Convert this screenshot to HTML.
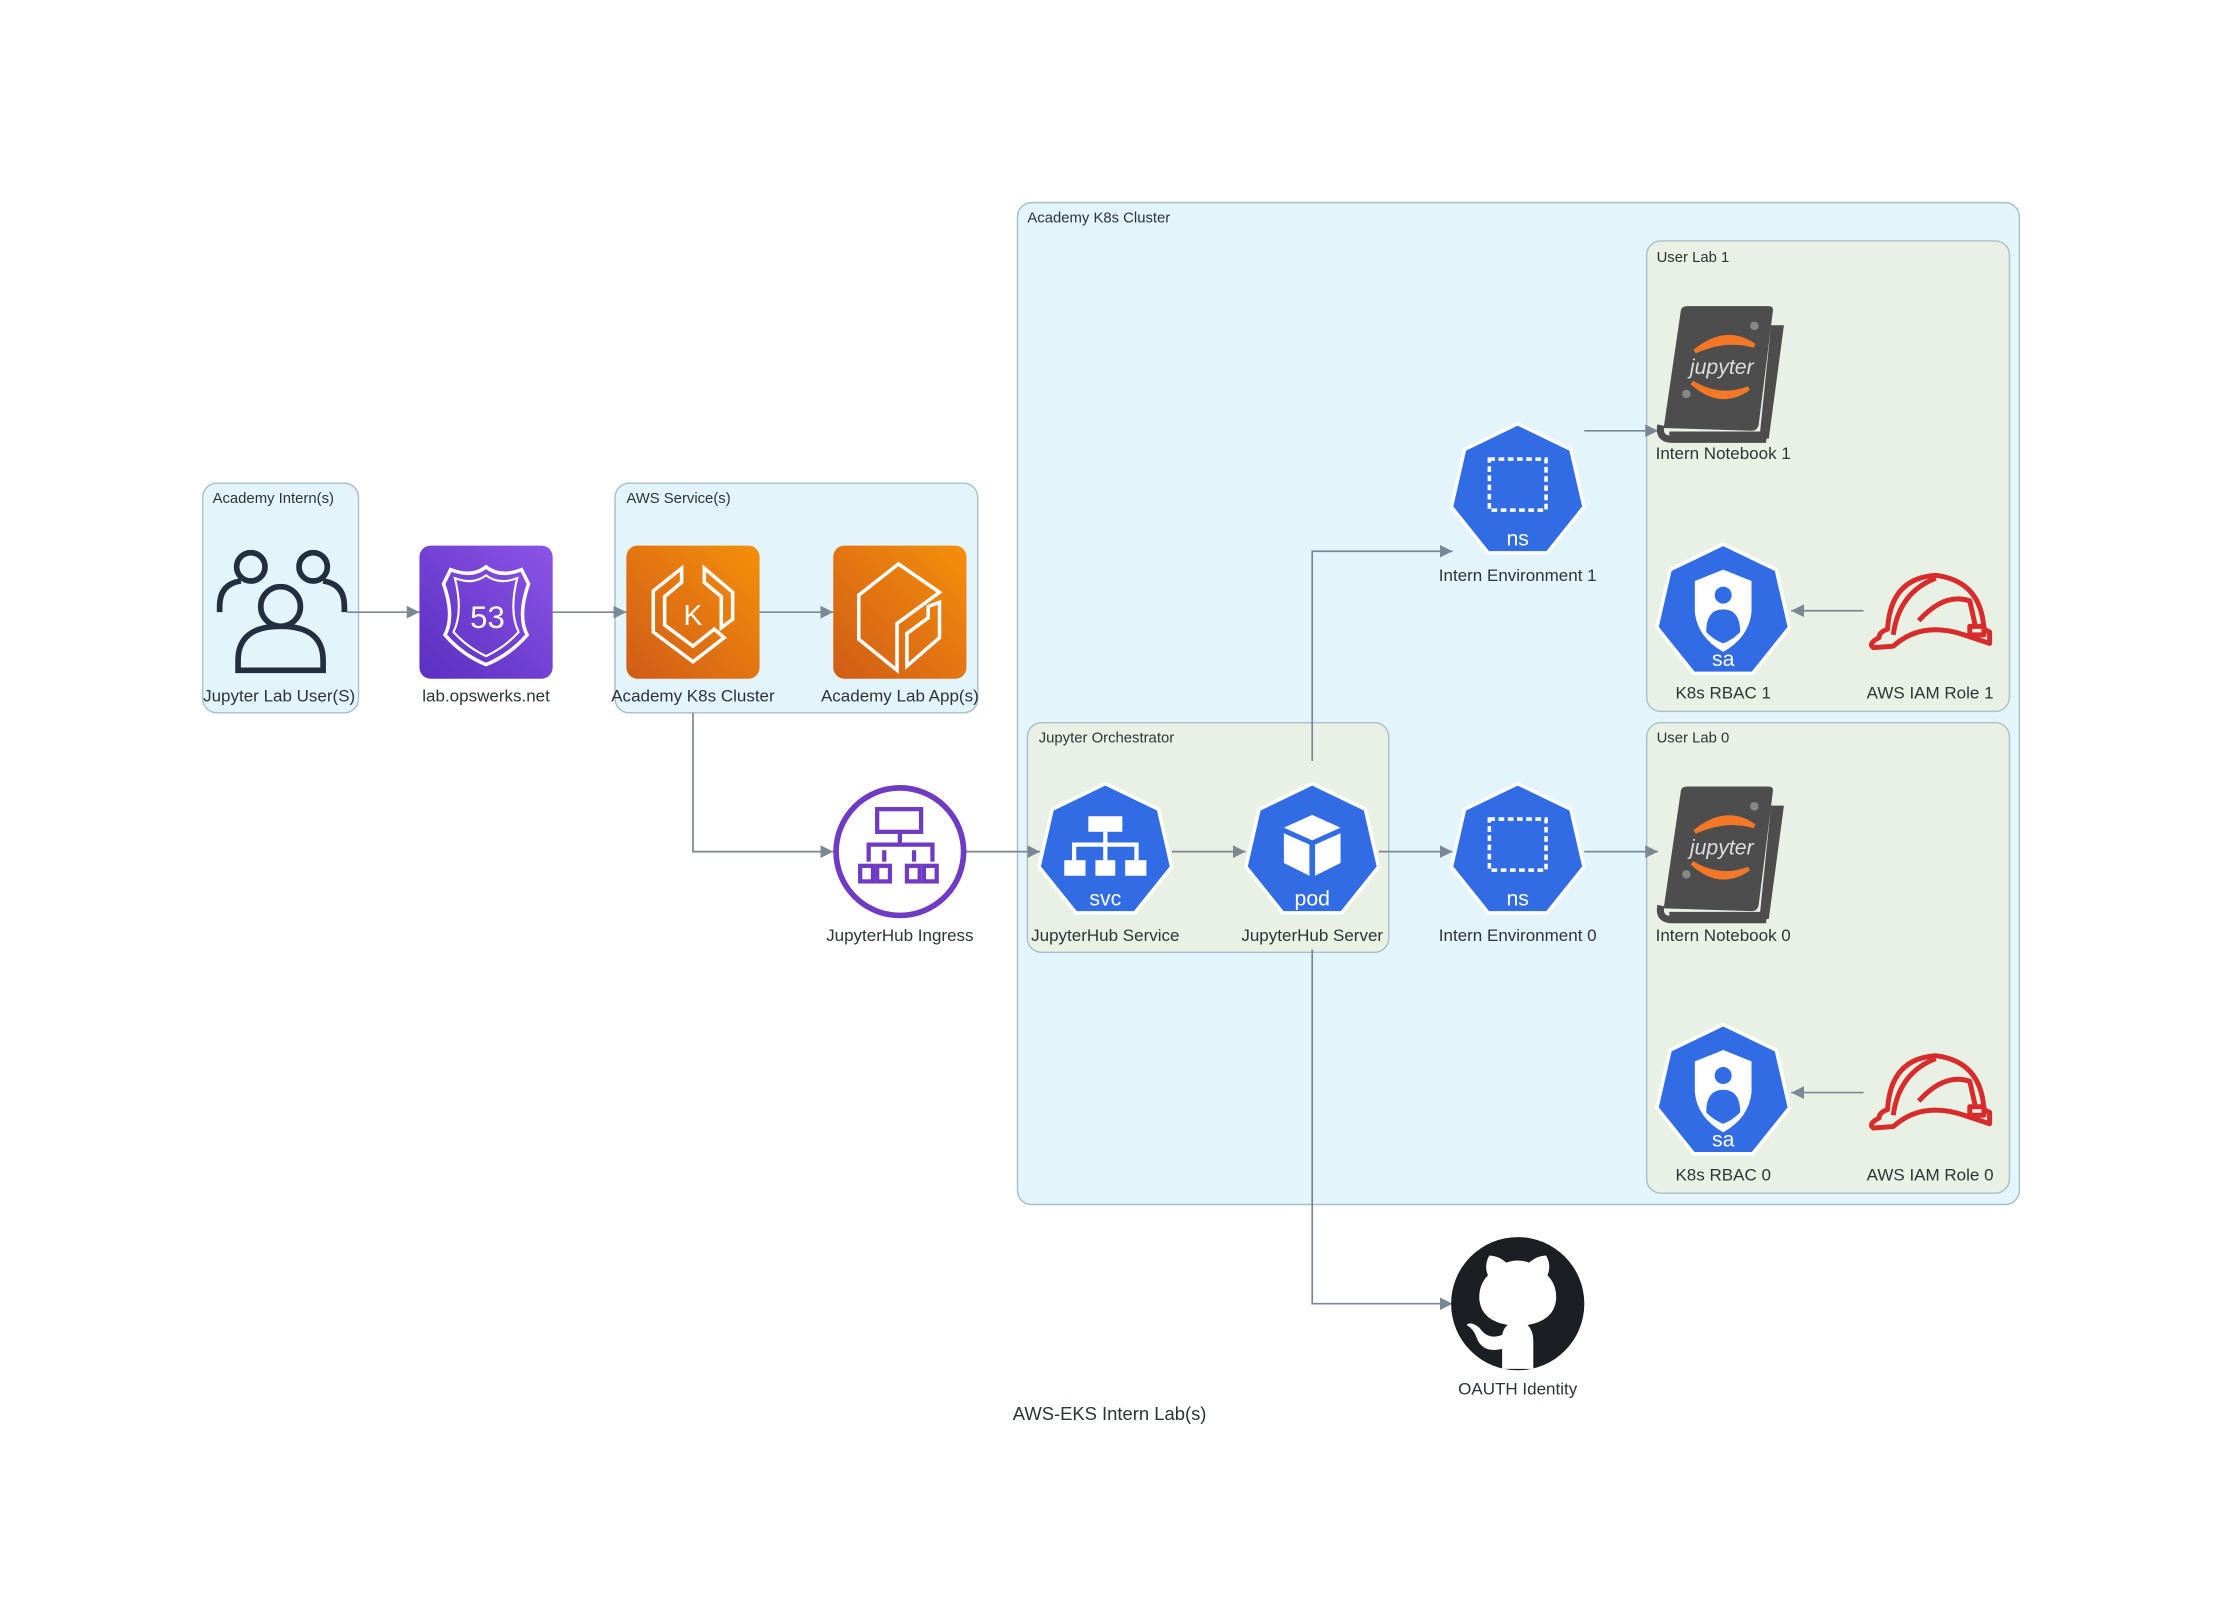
<!DOCTYPE html>
<html><head><meta charset="utf-8"><style>
html,body{margin:0;padding:0;background:#fff;}
svg{display:block;}
text{font-family:"Liberation Sans",sans-serif;fill:#2d3436;}
.lbl{font-size:12px;text-anchor:middle;}
.grp{font-size:10.5px;}
.e{stroke:#7b8793;stroke-width:1.2;fill:none;}
</style></head><body>
<svg width="2223" height="1620" viewBox="0 0 1568.7 1143.2" preserveAspectRatio="none" xmlns="http://www.w3.org/2000/svg">
<defs>
<marker id="a" viewBox="0 0 10 10" refX="10" refY="5" markerWidth="9" markerHeight="9" markerUnits="userSpaceOnUse" orient="auto"><path d="M0,0L10,5L0,10z" fill="#7b8793"/></marker>
<linearGradient id="pg" x1="0" y1="1" x2="1" y2="0"><stop offset="0" stop-color="#5a2fbf"/><stop offset="1" stop-color="#8c54e8"/></linearGradient>
<linearGradient id="og" x1="0" y1="1" x2="1" y2="0"><stop offset="0" stop-color="#d05c17"/><stop offset="1" stop-color="#f58f0b"/></linearGradient>
<g id="hex"><polygon points="0,-48 37.5,-29.9 46.8,10.7 20.8,43.2 -20.8,43.2 -46.8,10.7 -37.5,-29.9" fill="#326ce5" stroke="#fff" stroke-width="2.5" stroke-linejoin="round"/></g>
<g id="nb">
<path d="M-44,38 Q-46,48 -36,48 L28,48 L36,-30 L40,-30 L30,45 L-38,45" fill="none" stroke="#4d4d4d" stroke-width="5"/>
<path d="M-42,40 L-30,-42 Q-30,-46 -25,-46 L32,-46 Q36,-46 35,-42 L25,38 Q24,42 20,42 Z" fill="#4d4d4d"/>
<path d="M-20,-14 Q2,-32 22,-18 Q2,-24 -20,-14Z" fill="#f37726" stroke="#f37726" stroke-width="3"/>
<path d="M-22,8 Q-2,26 18,12 Q-2,20 -22,8Z" fill="#f37726" stroke="#f37726" stroke-width="3"/>
<text x="-1" y="2" font-size="15" font-style="italic" text-anchor="middle" style="fill:#ddd">jupyter</text>
<circle cx="22" cy="-32" r="3" fill="#888"/><circle cx="-26" cy="16" r="3" fill="#888"/>
</g>
<g id="sa"><use href="#hex"/>
<path d="M0,-30 L20,-22 L20,0 Q18,18 0,28 Q-18,18 -20,0 L-20,-22Z" fill="#fff"/>
<circle cx="0" cy="-12" r="6" fill="#326ce5"/><path d="M-12,14 Q-12,-2 0,-2 Q12,-2 12,14 Q6,20 0,22 Q-6,20 -12,14Z" fill="#326ce5"/>
<text x="0" y="38" font-size="15" text-anchor="middle" style="fill:#fff">sa</text></g>
<g id="ns"><use href="#hex"/><rect x="-20" y="-23" width="40" height="36" fill="none" stroke="#fff" stroke-width="2.5" stroke-dasharray="4,2.5"/>
<text x="0" y="38" font-size="15" text-anchor="middle" style="fill:#fff">ns</text></g>
<g id="iam" fill="none" stroke="#d82b2b" stroke-width="3.5" stroke-linejoin="round">
<path d="M-36,18 Q-44,22 -40,25 L-26,24 Q-6,6 24,16 L42,22 L42,14 L38,12 Q36,-22 4,-26 Q-28,-24 -30,12 Q-36,14 -36,18Z"/>
<path d="M-26,16 Q-22,-14 4,-24"/><path d="M-8,6 Q10,-14 28,-8 L32,10"/><rect x="28" y="10" width="10" height="6"/></g>
</defs>

<rect x="143" y="341" width="110" height="162" rx="10" fill="#e3f4fb" stroke="#a9bfc8"/>
<text class="grp" x="150" y="355">Academy Intern(s)</text>
<rect x="434" y="341" width="256" height="162" rx="10" fill="#e3f4fb" stroke="#a9bfc8"/>
<text class="grp" x="442" y="355">AWS Service(s)</text>
<rect x="718" y="143" width="707" height="707" rx="10" fill="#e3f4fb" stroke="#a9bfc8"/>
<text class="grp" x="725" y="157">Academy K8s Cluster</text>
<rect x="1162" y="170" width="256" height="332" rx="10" fill="#e9f1e4" stroke="#a9bfc8"/>
<text class="grp" x="1169" y="185">User Lab 1</text>
<rect x="1162" y="510" width="256" height="332" rx="10" fill="#e9f1e4" stroke="#a9bfc8"/>
<text class="grp" x="1169" y="524">User Lab 0</text>
<rect x="725" y="510" width="255" height="162" rx="10" fill="#e9f1e4" stroke="#a9bfc8"/>
<text class="grp" x="733" y="524">Jupyter Orchestrator</text>

<path class="e" marker-end="url(#a)" d="M245,432H296"/>
<path class="e" marker-end="url(#a)" d="M390,432H442"/>
<path class="e" marker-end="url(#a)" d="M536,432H588"/>
<path class="e" marker-end="url(#a)" d="M489,503V601H588"/>
<path class="e" marker-end="url(#a)" d="M682,601H734"/>
<path class="e" marker-end="url(#a)" d="M827,601H879"/>
<path class="e" marker-end="url(#a)" d="M973,601H1025"/>
<path class="e" marker-end="url(#a)" d="M1118,601H1170"/>
<path class="e" marker-end="url(#a)" d="M926,537V389H1025"/>
<path class="e" marker-end="url(#a)" d="M1118,304H1170"/>
<path class="e" marker-end="url(#a)" d="M1315,431H1264"/>
<path class="e" marker-end="url(#a)" d="M1315,771H1264"/>
<path class="e" marker-end="url(#a)" d="M926,670V920H1025"/>

<g fill="none" stroke="#232f3e" stroke-width="4">
<circle cx="177" cy="400" r="10"/><circle cx="221" cy="400" r="10"/>
<path d="M155,432V428Q155,412 170,410"/><path d="M243,432V428Q243,412 228,410"/>
<circle cx="198" cy="428" r="14"/>
<path d="M168,473V466Q168,442 198,442Q228,442 228,466V473Z"/>
</g>
<text class="lbl" x="197" y="495">Jupyter Lab User(S)</text>

<rect x="296" y="385" width="94" height="94" rx="8" fill="url(#pg)"/>
<path d="M343,400 Q333,408 318,402 L313,412 Q321,435 314,448 Q326,462 343,469 Q360,462 372,448 Q365,435 373,412 L368,402 Q353,408 343,400Z" fill="none" stroke="#fff" stroke-width="2.5"/>
<path d="M343,406 Q334,413 321,408 Q327,432 320,446 Q330,457 343,463 Q356,457 366,446 Q359,432 365,408 Q352,413 343,406Z" fill="none" stroke="#fff" stroke-width="1.5"/>
<text x="344" y="443" font-size="22" text-anchor="middle" style="fill:#fff">53</text>
<text class="lbl" x="343" y="495">lab.opswerks.net</text>

<rect x="442" y="385" width="94" height="94" rx="8" fill="url(#og)"/>
<g fill="none" stroke="#fff" stroke-width="2.5">
<path d="M481,401 L461,417 V446 L489,467 L511,450 L504,444 L489,456 L469,441 V421 L481,411Z"/>
<path d="M497,401 V411 L509,421 V443 L517,437 V418Z"/></g>
<text x="489" y="441" font-size="20" text-anchor="middle" style="fill:#fff">K</text>
<text class="lbl" x="489" y="495">Academy K8s Cluster</text>

<rect x="588" y="385" width="94" height="94" rx="8" fill="url(#og)"/>
<g fill="none" stroke="#fff" stroke-width="2.5"><path d="M634,398 L606,420 V451 L633,473 V440 L663,418 Z"/><path d="M663,425 V450 L640,470 V447 L655,436 V428Z"/></g>
<text class="lbl" x="635" y="495">Academy Lab App(s)</text>

<circle cx="635" cy="601" r="45" fill="#fff" stroke="#6e3bc2" stroke-width="4"/>
<g fill="none" stroke="#6e3bc2" stroke-width="3"><rect x="619" y="571" width="31" height="16"/><path d="M635,587V596M613,608V596H658V608M624,608V600M645,608V600"/>
<rect x="607" y="611" width="9" height="11"/><rect x="619" y="611" width="9" height="11"/><rect x="640" y="611" width="9" height="11"/><rect x="652" y="611" width="9" height="11"/></g>
<text class="lbl" x="635" y="664">JupyterHub Ingress</text>

<g transform="translate(780,601)"><use href="#hex"/>
<g fill="#fff"><rect x="-12" y="-25" width="24" height="11"/><rect x="-29" y="6" width="15" height="11"/><rect x="-7" y="6" width="14" height="11"/><rect x="14" y="6" width="15" height="11"/></g>
<path d="M0,-14V-5M-22,6V-5H22V6M0,-5V6" stroke="#fff" stroke-width="3" fill="none"/>
<text x="0" y="38" font-size="15" text-anchor="middle" style="fill:#fff">svc</text></g>
<text class="lbl" x="780" y="664">JupyterHub Service</text>

<g transform="translate(926,601)"><use href="#hex"/>
<path d="M0,-26 L20,-17 L0,-8 L-20,-17Z" fill="#fff"/><path d="M-20,-13 L-2,-5 V17 L-20,8Z" fill="#fff"/><path d="M20,-13 L2,-5 V17 L20,8Z" fill="#fff"/>
<text x="0" y="38" font-size="15" text-anchor="middle" style="fill:#fff">pod</text></g>
<text class="lbl" x="926" y="664">JupyterHub Server</text>

<use href="#ns" x="1071" y="601"/><text class="lbl" x="1071" y="664">Intern Environment 0</text>
<use href="#ns" x="1071" y="347"/><text class="lbl" x="1071" y="410">Intern Environment 1</text>

<use href="#nb" x="1216" y="262"/><text class="lbl" x="1216" y="324">Intern Notebook 1</text>
<use href="#nb" x="1216" y="601"/><text class="lbl" x="1216" y="664">Intern Notebook 0</text>

<use href="#sa" x="1216" y="432"/><text class="lbl" x="1216" y="493">K8s RBAC 1</text>
<use href="#iam" x="1362" y="432"/><text class="lbl" x="1362" y="493">AWS IAM Role 1</text>
<use href="#sa" x="1216" y="771"/><text class="lbl" x="1216" y="833">K8s RBAC 0</text>
<use href="#iam" x="1362" y="771"/><text class="lbl" x="1362" y="833">AWS IAM Role 0</text>

<circle cx="1071" cy="920" r="47" fill="#1b1f23"/>
<path d="M1060,966 V952 Q1046,955 1042,944 Q1040,938 1035,935 Q1038,932 1044,937 Q1050,946 1060,942 Q1061,937 1064,935 Q1046,932 1044,918 Q1043,907 1050,900 Q1047,893 1051,886 Q1057,886 1063,891 Q1071,888 1079,891 Q1085,886 1091,886 Q1095,893 1092,900 Q1099,907 1098,918 Q1096,932 1078,935 Q1082,939 1082,946 V966Z" fill="#fff"/>
<text class="lbl" x="1071" y="984">OAUTH Identity</text>

<text x="783" y="1002" font-size="13" text-anchor="middle">AWS-EKS Intern Lab(s)</text>
</svg>
</body></html>
